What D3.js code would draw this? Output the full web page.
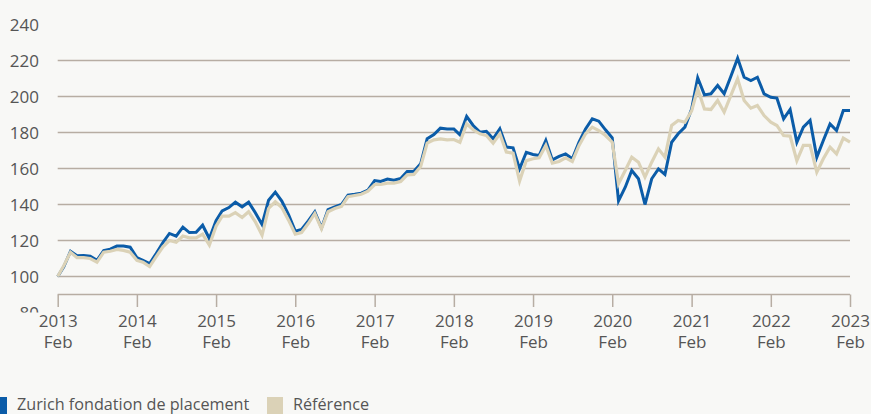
<!DOCTYPE html>
<html><head><meta charset="utf-8">
<script src="https://cdn.jsdelivr.net/npm/d3@7"></script>
<style>
html,body{margin:0;padding:0;background:#f8f8f6;}
svg{display:block;}
text{font-family:"Open Sans",sans-serif;fill:#555;}
</style></head><body>
<script>
const startYear = 2013, startMonth = 1; // Feb 2013
const zurich = [
100,105.4,114,111.5,111.7,111.3,109,114.4,115.2,116.9,116.9,116.3,
110.5,108.9,107.2,112.8,118.9,123.9,122.4,127.4,124.4,124.6,128.5,121.1,
131,136.5,138.3,141.3,138.7,141.3,135.4,128.9,142.4,146.9,141.9,134.4,
125.2,126.1,130.9,135.9,127,137.2,138.7,140,145.2,145.7,146.3,148,
153.3,152.8,154.1,153.5,154.4,158.3,158.5,162.6,176.5,178.9,182.4,182,
182,178.7,188.9,183.9,180.2,180.7,176.5,182,171.9,171.5,159.8,169,
167.8,167.2,175.6,164.8,166.7,168.1,165.4,174.6,182,187.6,186.3,181.5,
177,142,149.6,158.9,154.3,140,154.3,159.8,156.7,174.6,179.3,183,
193,210.4,200.9,201.5,206.1,201.5,211.3,221.3,210.7,208.9,210.7,201.5,
199.6,199.1,187.6,192.8,174.6,183,186.7,166.3,175.6,184.8,181.1,192.2,
192.2];
const reference = [
100,106,113.5,110.5,110.5,110,108,113.5,114,115,114.5,113.5,
109,108,105.5,111,116.5,120,119,122.5,121.5,121.5,123.5,117.5,
128,133.5,133.5,135.5,132.8,136,130.4,123,137.8,141.5,138.3,131.3,
123.5,124.4,129.4,135,126.5,136,137.8,139,144.3,145,145.7,147.4,
151.1,151.1,151.9,151.9,152.8,156.5,156.7,161.1,174.1,175.9,176.5,175.9,
176.1,174.6,184.8,181.5,179.3,178.3,174.1,179.3,169.1,168.5,153,164.4,
165.4,165.9,172.8,163,163.9,165.9,163.9,172.8,179.3,183,181.1,178.3,
174.6,151.5,158.9,166.3,163.5,155.2,163.5,170.9,166.3,183.9,186.7,185.7,
192,204.3,193.1,192.8,197.8,191.3,200.6,209.8,197.8,193.5,195,189.4,
185.7,183.9,178.3,178,164.4,172.8,172.8,158,165.4,171.9,168.1,176.9,
174.6];
const yTicks = [80,100,120,140,160,180,200,220,240];
const gridValues = [100,120,140,160,180,200,220];
const xTickYears = [2013,2014,2015,2016,2017,2018,2019,2020,2021,2022,2023];
const tickMonthLabel = "Feb";
const seriesNames = ["Zurich fondation de placement","Référence"];
const colors = ["#0b5ca8","#dbd2b7"];

const W = 871, H = 414;
const svg = d3.select("body").append("svg").attr("width",W).attr("height",H);
svg.append("rect").attr("width",W).attr("height",H).attr("fill","#f8f8f6");

const dates = zurich.map((_,i)=> new Date(startYear, startMonth + i, 1));
const x = d3.scaleTime().domain([new Date(2013,1,1), new Date(2023,1,1)]).range([57.7, 850]);
const y = d3.scaleLinear().domain([80,240]).range([312.5, 24.5]);
const axisY = y(90);
const gridColor = "#b7ada3";

// gridlines
svg.append("g").selectAll("line").data(gridValues).join("line")
  .attr("x1",x.range()[0]).attr("x2",x.range()[1])
  .attr("y1",d=>y(d)).attr("y2",d=>y(d))
  .attr("stroke",gridColor).attr("stroke-width",1.5);

// y labels (clipped like the reference)
svg.append("clipPath").attr("id","yclip").append("rect")
  .attr("x",0).attr("y",0).attr("width",56).attr("height",312.5);
const yAxis = d3.axisLeft(y).tickValues(yTicks).tickSize(0).tickPadding(0);
const gy = svg.append("g").attr("clip-path","url(#yclip)")
  .append("g").attr("transform","translate(39,0)").call(yAxis);
gy.select(".domain").remove();
gy.selectAll("text").attr("font-size",17).attr("font-family","Open Sans, sans-serif").attr("fill","#555").attr("dy","0.36em");

// x axis
const xTickDates = xTickYears.map(yy=>new Date(yy,1,1));
const xAxis = d3.axisBottom(x).tickValues(xTickDates).tickSize(12.5).tickFormat(()=> "");
const gx = svg.append("g").attr("transform",`translate(0,${axisY})`).call(xAxis);
gx.select(".domain").attr("stroke",gridColor).attr("stroke-width",1.5).attr("d",`M${x.range()[0]},0H${x.range()[1]}`);
gx.selectAll(".tick line").attr("stroke",gridColor).attr("stroke-width",1.5);
gx.selectAll(".tick").each(function(d){
  const t = d3.select(this);
  t.append("text").attr("y",32.5).attr("text-anchor","middle").attr("font-size",17).attr("fill","#555").text(d.getFullYear());
  t.append("text").attr("y",53.5).attr("text-anchor","middle").attr("font-size",17).attr("fill","#555").text(tickMonthLabel);
});

// lines
const line = d3.line().x((d,i)=>x(dates[i])).y(d=>y(d));
svg.append("path").datum(zurich).attr("d",line).attr("fill","none")
  .attr("stroke",colors[0]).attr("stroke-width",3).attr("stroke-linejoin","miter");
svg.append("path").datum(reference).attr("d",line).attr("fill","none")
  .attr("stroke",colors[1]).attr("stroke-width",3.2).attr("stroke-linejoin","miter");

// legend
const lg = svg.append("g");
lg.append("rect").attr("x",-9).attr("y",397).attr("width",16).attr("height",17).attr("fill",colors[0]);
lg.append("text").attr("x",17).attr("y",409.5).attr("font-size",16.2).attr("fill","#555").text(seriesNames[0]);
lg.append("rect").attr("x",267).attr("y",397).attr("width",16).attr("height",17).attr("fill",colors[1]);
lg.append("text").attr("x",293).attr("y",409.5).attr("font-size",16.2).attr("fill","#555").text(seriesNames[1]);
</script>
</body></html>
